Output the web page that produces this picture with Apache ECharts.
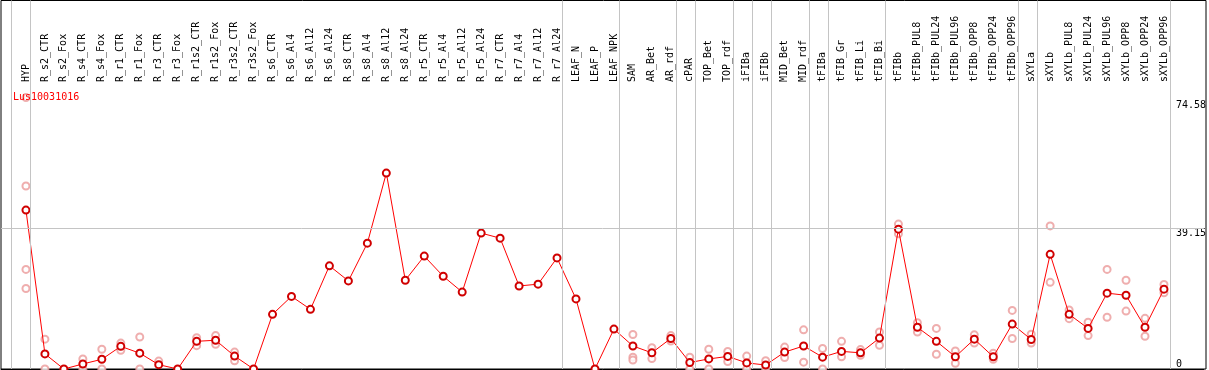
<!DOCTYPE html>
<html>
<head>
<meta charset="utf-8">
<script src="https://cdn.jsdelivr.net/npm/echarts@6.0.0/dist/echarts.min.js"></script>
<style>
  html, body { margin: 0; padding: 0; background: #fff; }
  #chart { width: 1209px; height: 370px; }
</style>
</head>
<body>
<div id="chart"></div>
<script>
const geneName = 'Lus10031016';

const categories = [
  'HYP', 'R_s2_CTR', 'R_s2_Fox', 'R_s4_CTR', 'R_s4_Fox', 'R_r1_CTR', 'R_r1_Fox', 'R_r3_CTR', 'R_r3_Fox',
  'R_r1s2_CTR', 'R_r1s2_Fox', 'R_r3s2_CTR', 'R_r3s2_Fox', 'R_s6_CTR', 'R_s6_Al4', 'R_s6_Al12', 'R_s6_Al24',
  'R_s8_CTR', 'R_s8_Al4', 'R_s8_Al12', 'R_s8_Al24', 'R_r5_CTR', 'R_r5_Al4', 'R_r5_Al12', 'R_r5_Al24',
  'R_r7_CTR', 'R_r7_Al4', 'R_r7_Al12', 'R_r7_Al24', 'LEAF_N', 'LEAF_P', 'LEAF_NPK', 'SAM', 'AR_Bet', 'AR_rdf',
  'cPAR', 'TOP_Bet', 'TOP_rdf', 'iFIBa', 'iFIBb', 'MID_Bet', 'MID_rdf', 'tFIBa', 'tFIB_Gr', 'tFIB_Li', 'tFIB_Bi',
  'tFIBb', 'tFIBb_PUL8', 'tFIBb_PUL24', 'tFIBb_PUL96', 'tFIBb_OPP8', 'tFIBb_OPP24', 'tFIBb_OPP96',
  'sXYLa', 'sXYLb', 'sXYLb_PUL8', 'sXYLb_PUL24', 'sXYLb_PUL96', 'sXYLb_OPP8', 'sXYLb_OPP24', 'sXYLb_OPP96'
];

// mean expression per sample
const means = [
  44.2, 4.2, 0, 1.4, 2.7, 6.3, 4.4, 1.2, 0, 7.7, 8.0, 3.6, 0, 15.2, 20.2, 16.6, 28.7, 24.5, 35.0, 54.5,
  24.7, 31.4, 25.8, 21.4, 37.8, 36.4, 23.1, 23.6, 30.9, 19.5, 0, 11.1, 6.4, 4.5, 8.5, 1.8, 2.8, 3.5, 1.7,
  1.1, 4.7, 6.4, 3.3, 4.9, 4.5, 8.6, 38.9, 11.6, 7.7, 3.4, 8.3, 3.4, 12.5, 8.2, 31.9, 15.2, 11.3, 21.1,
  20.5, 11.6, 22.2
];

// replicate values per sample
const replicates = [
  [75.5, 50.9, 27.7, 22.4], [8.3, 0], [], [2.8, 0], [5.5, 0], [7.2, 5.2], [8.9, 0], [2.2], [],
  [8.7, 6.5], [9.3, 6.9], [4.7, 2.3], [], [], [], [], [],
  [], [], [], [], [], [], [], [],
  [], [], [], [], [], [], [], [9.6, 3.3, 2.5], [5.9, 2.9], [9.3, 7.8],
  [3.3, 0], [5.5, 0], [4.9, 2.1], [3.6, 0], [2.3, 0], [6.1, 3.2], [10.9, 1.9], [5.7, 0], [7.7, 3.4], [5.4, 3.8], [10.3, 6.6],
  [40.3, 37.6], [12.9, 10.3], [11.3, 4.1], [5.0, 1.6], [9.5, 7.2], [4.4, 2.7], [16.3, 8.5],
  [9.7, 7.2], [39.8, 24.1], [16.4, 14.0], [13.0, 9.3], [27.7, 14.4], [24.7, 16.1], [14.1, 9.1], [23.5, 21.2]
];

// last sample index of each group (-1 = line before the first sample)
const groupEnds = [-1, 0, 28, 31, 34, 35, 37, 38, 39, 41, 42, 45, 52, 53, 60];

const yTicks = [0, 39.15, 74.58];

const FONT = 'DejaVu Sans Mono';
const GRID_LINE = '#c4c4c4';
const X_MIN = -1.3158;
const X_MAX = 62.105;

const meanData = means.map((v, i) => [i, v]);
const repData = [];
replicates.forEach((vals, i) => vals.forEach(v => repData.push([i, v])));

const chart = echarts.init(document.getElementById('chart'), null, { renderer: 'canvas' });

const option = {
  animation: false,
  backgroundColor: '#fff',
  title: {
    text: geneName,
    left: 8,
    top: 87,
    textStyle: { color: '#ff0000', fontSize: 10, fontWeight: 'normal', fontFamily: FONT }
  },
  grid: [
    { left: 1, right: 3, top: 0.5, bottom: 1, show: true, borderColor: '#000', borderWidth: 1, backgroundColor: 'transparent' },
    { left: 1, right: 3, top: 85, bottom: 1 }
  ],
  xAxis: [
    { type: 'value', gridIndex: 0, min: X_MIN, max: X_MAX, show: false },
    {
      type: 'value',
      gridIndex: 1,
      min: X_MIN,
      max: X_MAX,
      position: 'top',
      axisLine: { show: true, lineStyle: { color: '#000', width: 1 } },
      axisTick: { show: false },
      splitLine: { show: false },
      axisLabel: {
        customValues: categories.map((c, i) => i),
        formatter: v => categories[Math.round(v)] ?? '',
        rotate: 90,
        margin: 3,
        color: '#000',
        fontSize: 10,
        fontFamily: FONT
      }
    }
  ],
  yAxis: [
    { type: 'value', gridIndex: 0, min: 0, max: 1, show: false },
    {
      type: 'value',
      gridIndex: 1,
      min: 0,
      max: 79.0,
      position: 'right',
      axisLine: { show: false },
      axisTick: { show: false },
      splitLine: { show: false },
      axisLabel: {
        customValues: yTicks.slice(1),
        inside: true,
        align: 'left',
        verticalAlign: 'top',
        margin: 28,
        color: '#000',
        fontSize: 10,
        fontFamily: FONT
      }
    },
    {
      type: 'value',
      gridIndex: 1,
      min: 0,
      max: 79.0,
      position: 'right',
      axisLine: { show: false },
      axisTick: { show: false },
      splitLine: { show: false },
      axisLabel: {
        customValues: yTicks.slice(0, 1),
        inside: true,
        align: 'left',
        verticalAlign: 'bottom',
        margin: 28,
        color: '#000',
        fontSize: 10,
        fontFamily: FONT
      }
    }
  ],
  series: [
    {
      // carries the group separators through header and plot
      type: 'line',
      xAxisIndex: 0,
      yAxisIndex: 0,
      data: [[X_MIN, -1]],
      symbol: 'none',
      silent: true,
      z: 1,
      markLine: {
        silent: true,
        symbol: ['none', 'none'],
        label: { show: false },
        lineStyle: { color: GRID_LINE, width: 1, type: 'solid' },
        data: groupEnds.map(g => ({ xAxis: g + 0.24 }))
      }
    },
    {
      name: 'replicates',
      type: 'scatter',
      xAxisIndex: 1,
      yAxisIndex: 1,
      data: repData,
      symbol: 'emptyCircle',
      symbolSize: 7,
      itemStyle: { color: '#eb9a9a', borderColor: '#eb9a9a', borderWidth: 1.5 },
      z: 2,
      markLine: {
        silent: true,
        symbol: ['none', 'none'],
        label: { show: false },
        lineStyle: { color: GRID_LINE, width: 1, type: 'solid' },
        data: [{ yAxis: yTicks[1] }]
      }
    },
    {
      name: 'mean',
      type: 'line',
      xAxisIndex: 1,
      yAxisIndex: 1,
      data: meanData,
      symbol: 'emptyCircle',
      symbolSize: 7,
      showAllSymbol: true,
      lineStyle: { color: '#ff0000', width: 1 },
      itemStyle: { color: '#d00000', borderColor: '#d00000', borderWidth: 1.6 },
      z: 3
    }
  ]
};

chart.setOption(option);
</script>
</body>
</html>
